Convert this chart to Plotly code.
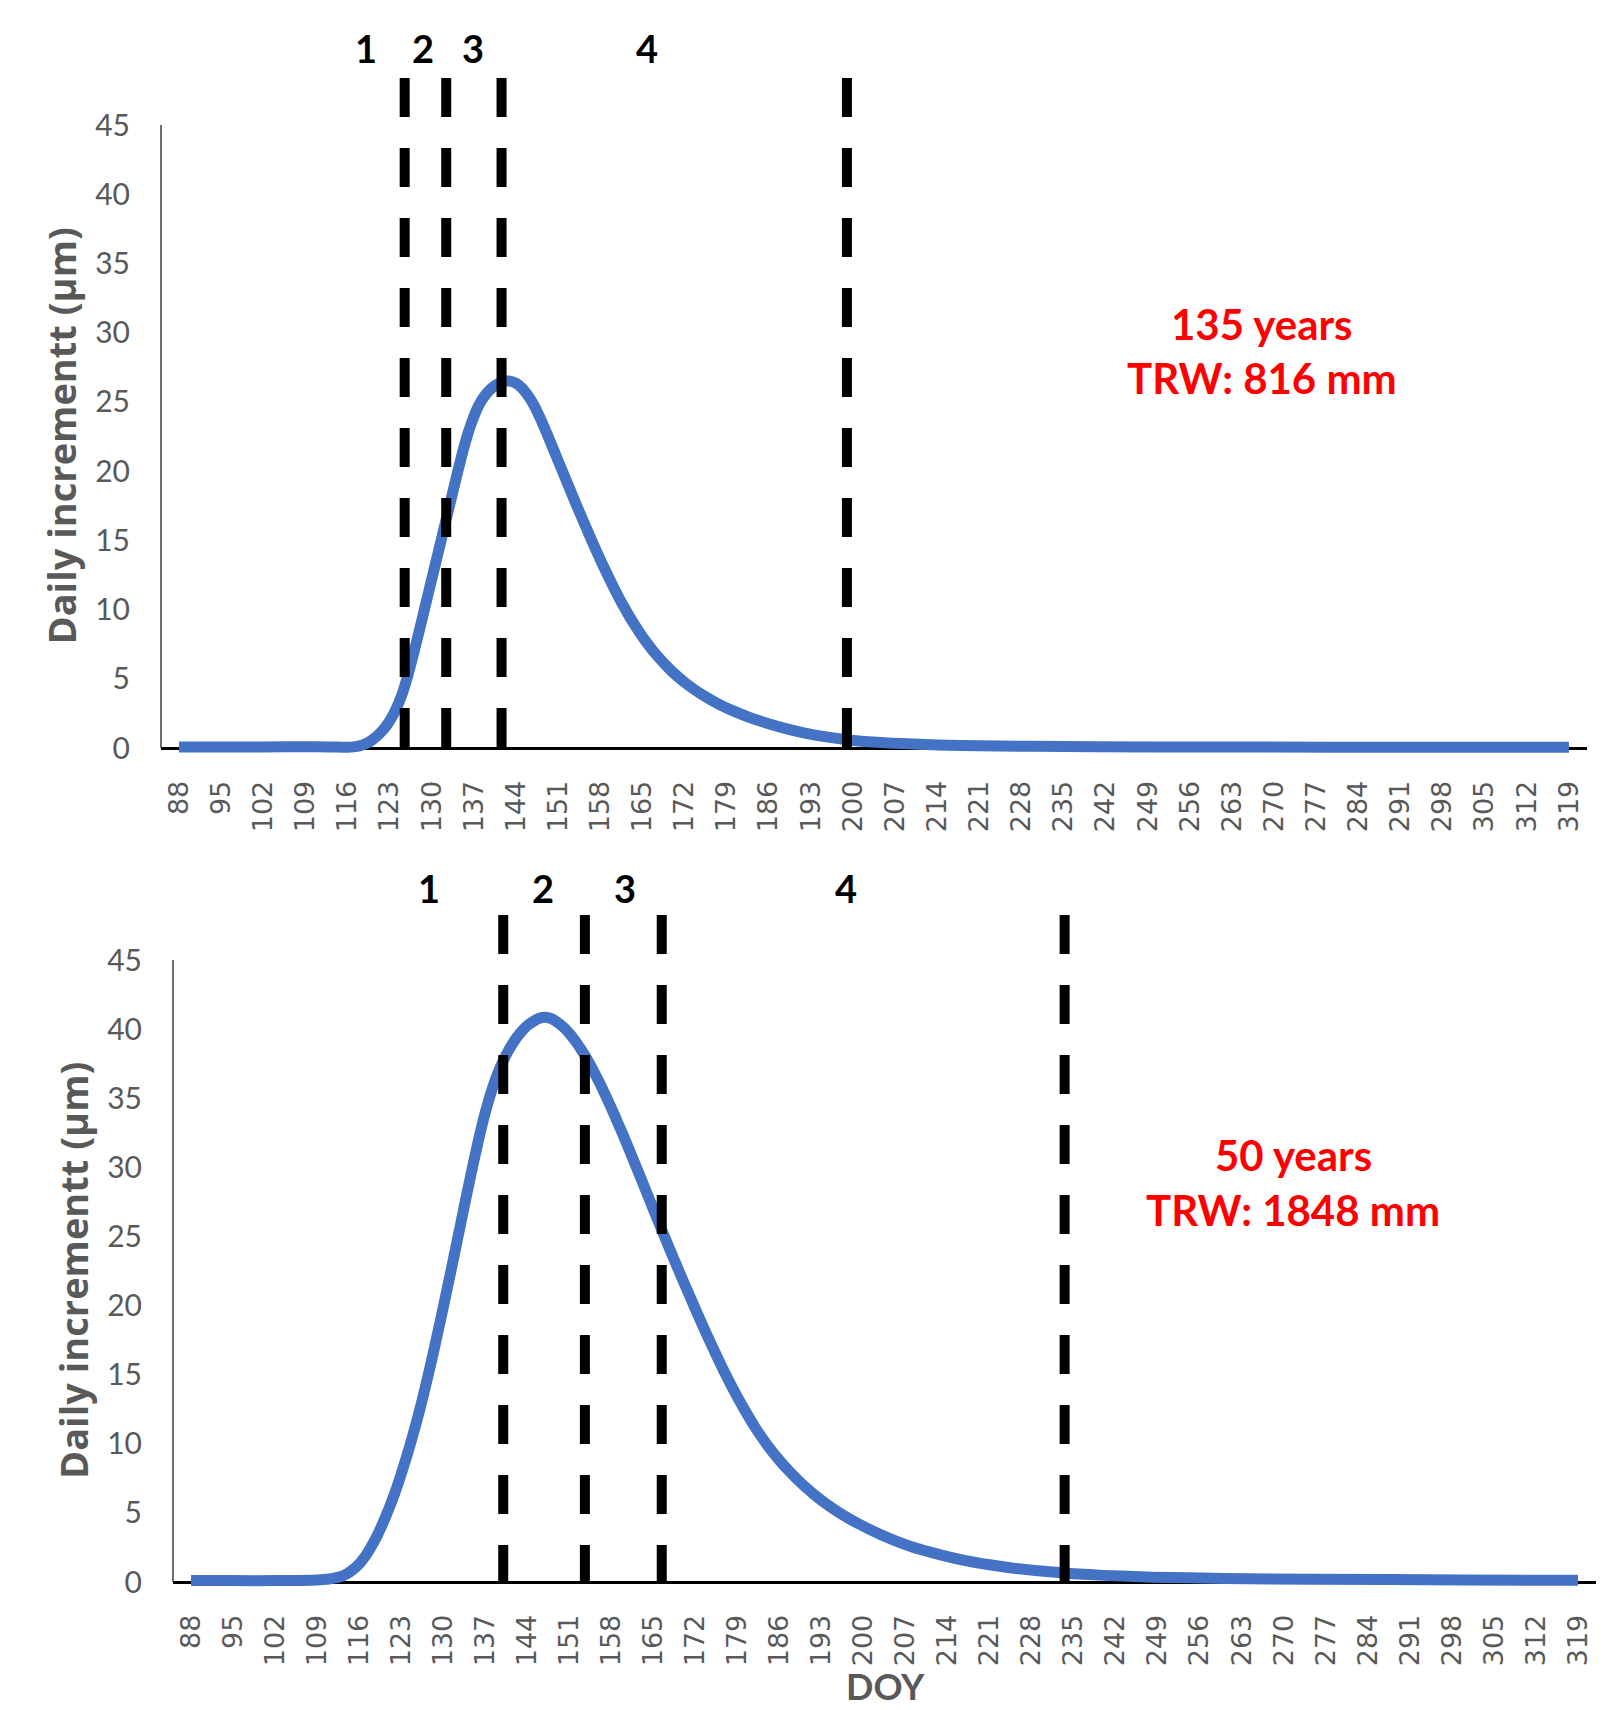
import plotly.graph_objects as go

# ---------------- data ----------------
TICK_DOY = [88, 95, 102, 109, 116, 123, 130, 137, 144, 151, 158, 165, 172, 179, 186,
            193, 200, 207, 214, 221, 228, 235, 242, 249, 256, 263, 270, 277, 284, 291,
            298, 305, 312, 319]
Y_TICKS = [0, 5, 10, 15, 20, 25, 30, 35, 40, 45]

# Top panel: 135 years, TRW 816 mm
DOY_TOP = [88, 95, 102, 109, 113, 116, 117, 118,
           119, 120, 121, 122, 123, 124, 125, 126, 127, 128, 129, 130, 131, 132, 133, 134,
           135, 136, 137, 138, 139, 140, 141, 142, 143, 144, 145, 146, 147, 148, 149, 150,
           151, 152, 153, 154, 155, 156, 157, 158, 159, 160, 161, 162, 163, 164, 165, 166,
           167, 168, 169, 170, 172, 174, 176, 178, 180, 183, 186, 189, 192, 195, 199, 204,
           210, 218, 230, 250, 280, 319]
VAL_TOP = [0.08, 0.08, 0.08, 0.09, 0.08, 0.05, 0.08, 0.15,
           0.3, 0.55, 0.9, 1.35, 1.95, 2.75, 3.8, 5.2, 6.85, 8.6, 10.4, 12.2, 14.0, 15.8, 17.6, 19.4,
           21.15, 22.7, 23.95, 24.9, 25.55, 26.0, 26.3, 26.48, 26.5, 26.35, 26.0, 25.45, 24.75, 23.85, 22.85, 21.8,
           20.75, 19.7, 18.65, 17.6, 16.58, 15.57, 14.58, 13.62, 12.7, 11.8, 10.95, 10.15, 9.4, 8.7, 8.05, 7.45,
           6.9, 6.4, 5.93, 5.5, 4.75, 4.12, 3.58, 3.1, 2.7, 2.18, 1.75, 1.38, 1.08, 0.84, 0.6, 0.41,
           0.28, 0.18, 0.12, 0.08, 0.06, 0.05]
PHASE_LINES_TOP = [125.5, 132.4, 141.6, 199.0]
PHASE_LABEL_DOY_TOP = [119.1, 128.6, 136.9, 165.7]

# Bottom panel: 50 years, TRW 1848 mm
DOY_BOT = [88, 95, 102, 109, 111, 112,
           113, 114, 115, 116, 117, 118, 119, 120, 121, 122, 123, 124, 125, 126, 127, 128,
           129, 130, 131, 132, 133, 134, 135, 136, 137, 138, 139, 140, 141, 142, 143, 144,
           145, 146, 147, 148, 149, 150, 151, 152, 153, 154, 155, 156, 157, 158, 159, 160,
           162, 164, 166, 168, 170, 172, 174, 176, 178, 180, 182, 184, 186, 188, 190, 193,
           196, 199, 203, 208, 213, 217, 221, 225, 230, 235, 240, 248, 260, 275, 300, 319]
VAL_BOT = [0.1, 0.1, 0.1, 0.15, 0.22, 0.3,
           0.4, 0.6, 0.9, 1.3, 1.85, 2.55, 3.35, 4.3, 5.35, 6.5, 7.8, 9.2, 10.7, 12.3, 14.05, 15.9,
           17.85, 19.85, 21.9, 24.0, 26.1, 28.2, 30.25, 32.2, 33.95, 35.45, 36.7, 37.7, 38.55, 39.25, 39.8, 40.25,
           40.55, 40.78, 40.85, 40.75, 40.5, 40.15, 39.7, 39.15, 38.5, 37.8, 37.0, 36.15, 35.25, 34.3, 33.3, 32.3,
           30.2, 28.05, 25.9, 23.8, 21.75, 19.75, 17.8, 15.95, 14.2, 12.6, 11.15, 9.9, 8.8, 7.85, 7.0, 5.9,
           5.0, 4.25, 3.4, 2.55, 1.95, 1.55, 1.25, 1.0, 0.78, 0.6, 0.48, 0.35, 0.26, 0.2, 0.15, 0.12]
PHASE_LINES_BOT = [140.0, 153.6, 166.4, 233.5]
PHASE_LABEL_DOY_BOT = [127.6, 146.6, 160.3, 197.1]

PHASE_LABELS = ["1", "2", "3", "4"]
INFO_TOP = ["135 years", "TRW: 816 mm"]
INFO_BOT = ["50 years", "TRW: 1848 mm"]
Y_TITLE = "Daily incrementt (µm)"
X_TITLE = "DOY"

# ---------------- layout geometry (pixels) ----------------
W, H = 1615, 1710
X_RANGE = [85, 322]
YMIN = -0.6
GRAY = "#595959"
BLUE = "#4472C4"

panels = [
    dict(xl=161, xr=1587, y0=748, y45=125, dash_top=78, label_y=48, title_x=60,
         info_x=1262, info_y=[324, 378]),
    dict(xl=173, xr=1596, y0=1582, y45=960, dash_top=915, label_y=888, title_x=73,
         info_x=1293, info_y=[1155, 1210]),
]

def px_x(p):
    return p / W

def px_y(p):
    return 1 - p / H

fig = go.Figure()
series = [(DOY_TOP, VAL_TOP), (DOY_BOT, VAL_BOT)]
for i, (xs, ys) in enumerate(series):
    sfx = "" if i == 0 else "2"
    fig.add_trace(go.Scatter(x=xs, y=ys, mode="lines",
                             line=dict(color=BLUE, width=11, shape="spline", smoothing=0.6),
                             xaxis="x" + sfx, yaxis="y" + sfx, showlegend=False,
                             hoverinfo="skip"))

layout = dict(width=W, height=H,
              margin=dict(l=0, r=0, t=0, b=0, pad=0, autoexpand=False),
              paper_bgcolor="white", plot_bgcolor="white", showlegend=False)

shapes = []
annotations = []
for i, p in enumerate(panels):
    sfx = "" if i == 0 else "2"
    unit = (p["y0"] - p["y45"]) / 45.0
    bottom_px = p["y0"] - YMIN * unit
    layout["xaxis" + sfx] = dict(
        domain=[px_x(p["xl"]), px_x(p["xr"])], range=X_RANGE, anchor="y" + sfx,
        tickmode="array", tickvals=TICK_DOY, ticktext=[str(t) for t in TICK_DOY],
        tickangle=-90, tickfont=dict(family="DejaVu Sans", size=27, color=GRAY),
        showgrid=False, zeroline=False, showline=False, ticks="", automargin=False,
        ticklabelstandoff=18)
    layout["yaxis" + sfx] = dict(
        domain=[px_y(bottom_px), px_y(p["y45"])], range=[YMIN, 45], anchor="x" + sfx,
        tickmode="array", tickvals=Y_TICKS,
        tickfont=dict(family="Lato", size=30, color=GRAY),
        showgrid=False, zeroline=True, zerolinecolor="black", zerolinewidth=2.5,
        showline=False, ticks="", automargin=False, ticklabelstandoff=30)
    # y axis line from 0 to 45
    shapes.append(dict(type="line", xref="x" + sfx + " domain", yref="y" + sfx,
                       x0=0, x1=0, y0=0, y1=45, line=dict(color="#404040", width=1.5)))
    lines = PHASE_LINES_TOP if i == 0 else PHASE_LINES_BOT
    for d in lines:
        shapes.append(dict(type="line", xref="x" + sfx, yref="paper",
                           x0=d, x1=d, y0=px_y(p["dash_top"]), y1=px_y(p["y0"]),
                           line=dict(color="black", width=10, dash="39px,31px")))
    label_doy = PHASE_LABEL_DOY_TOP if i == 0 else PHASE_LABEL_DOY_BOT
    for d, t in zip(label_doy, PHASE_LABELS):
        annotations.append(dict(text=t, x=d, xref="x" + sfx, y=px_y(p["label_y"]),
                                yref="paper", showarrow=False, xanchor="center",
                                yanchor="middle",
                                font=dict(family="Lato", size=38, color="black",
                                          weight="bold")))
    annotations.append(dict(text=Y_TITLE, textangle=-90, x=px_x(p["title_x"]), xref="paper",
                            y=px_y((p["y0"] + p["y45"]) / 2), yref="paper",
                            showarrow=False, xanchor="center", yanchor="middle",
                            font=dict(family="Open Sans", size=38, color=GRAY, weight="bold")))
    info = INFO_TOP if i == 0 else INFO_BOT
    for t, yy in zip(info, p["info_y"]):
        annotations.append(dict(text=t, x=px_x(p["info_x"]), xref="paper",
                                y=px_y(yy), yref="paper", showarrow=False,
                                xanchor="center", yanchor="middle",
                                font=dict(family="Lato", size=42, color="#FF0000",
                                          weight="bold")))

annotations.append(dict(text=X_TITLE, x=px_x(885), xref="paper", y=0, yref="paper",
                        showarrow=False, xanchor="center", yanchor="bottom",
                        font=dict(family="Lato", size=36, color=GRAY, weight="bold")))

layout["shapes"] = shapes
layout["annotations"] = annotations
fig.update_layout(**layout)

fig.write_html("out.html", config={"displayModeBar": False},
               post_script="document.body.style.margin='0';document.body.style.overflow='hidden';")
